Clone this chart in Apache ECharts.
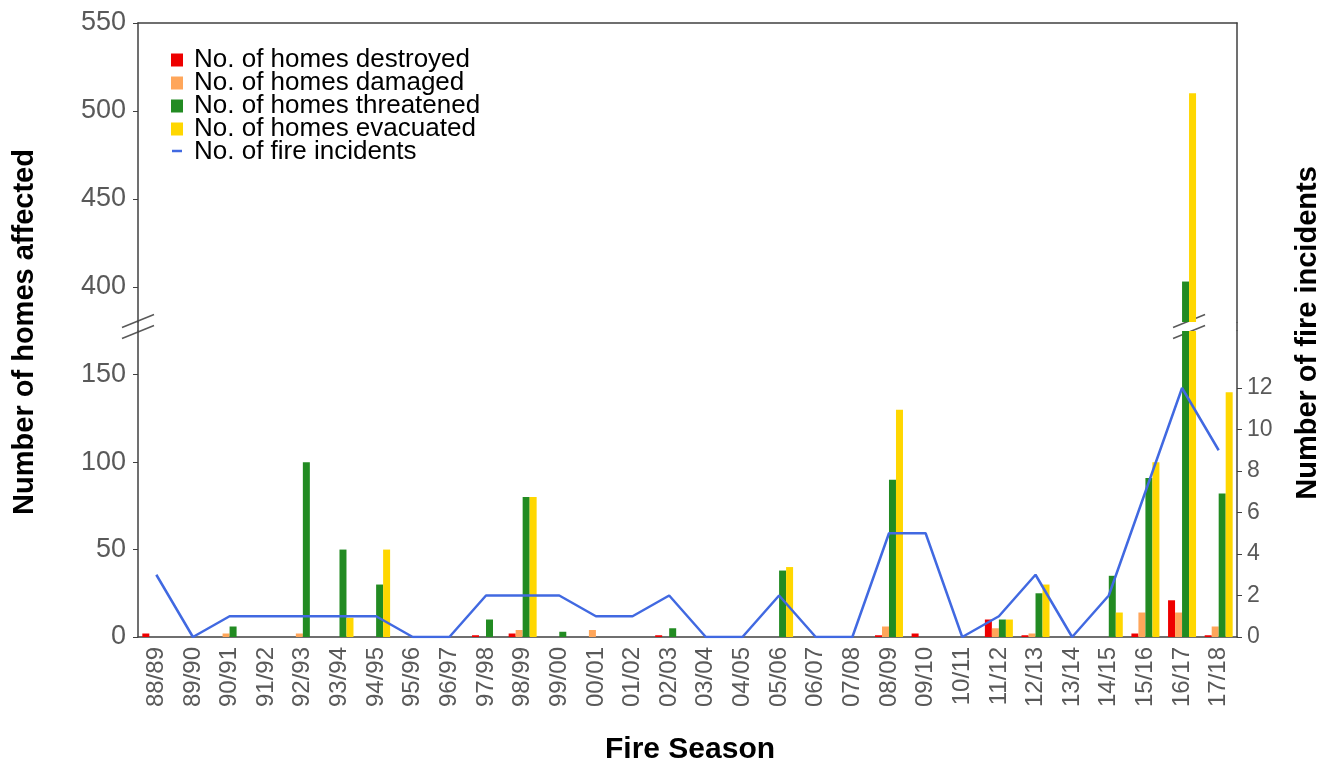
<!DOCTYPE html>
<html style="height: 100%">
<head>
    <meta charset="utf-8">
    <script src="https://cdn.jsdelivr.net/npm/echarts@6/dist/echarts.min.js"></script>
</head>
<body style="height: 100%; margin: 0; background: #fff">
    <div id="container" style="width: 1322px; height: 763px;"></div>
    <script>
        // data
        var seasons = ['88/89', '89/90', '90/91', '91/92', '92/93', '93/94', '94/95', '95/96', '96/97', '97/98',
            '98/99', '99/00', '00/01', '01/02', '02/03', '03/04', '04/05', '05/06', '06/07', '07/08',
            '08/09', '09/10', '10/11', '11/12', '12/13', '13/14', '14/15', '15/16', '16/17', '17/18'];
        var destroyed = [2, 0, 0, 0, 0, 0, 0, 0, 0, 1, 2, 0, 0, 0, 1, 0, 0, 0, 0, 0, 1, 2, 0, 10, 1, 0, 0, 2, 21, 1];
        var damaged = [0, 0, 2, 0, 2, 0, 0, 0, 0, 0, 4, 0, 4, 0, 0, 0, 0, 0, 0, 0, 6, 0, 0, 5, 2, 0, 0, 14, 14, 6];
        var threatened = [0, 0, 6, 0, 100, 50, 30, 0, 0, 10, 80, 3, 0, 0, 5, 0, 0, 38, 0, 0, 90, 0, 0, 10, 25, 0, 35, 91, 403, 82];
        var evacuated = [0, 0, 0, 0, 0, 11, 50, 0, 0, 0, 80, 0, 0, 0, 0, 0, 0, 40, 0, 0, 130, 0, 0, 10, 30, 0, 14, 100, 510, 140];
        var fires = [3, 0, 1, 1, 1, 1, 1, 0, 0, 2, 2, 2, 1, 1, 2, 0, 0, 2, 0, 0, 5, 5, 0, 1, 3, 0, 2, 7, 12, 9];

        var lowTicks = [0, 50, 100, 150];
        var highTicks = [400, 450, 500, 550];
        var fireTicks = [0, 2, 4, 6, 8, 10, 12];

        var names = ['No. of homes destroyed', 'No. of homes damaged', 'No. of homes threatened', 'No. of homes evacuated'];
        var colors = ['#ee0000', '#ffa65a', '#228b22', '#ffd700'];
        var barData = [destroyed, damaged, threatened, evacuated];

        var FONT = 'Liberation Sans, Arial, sans-serif';
        var AXIS = '#404040';
        var LABEL = '#595959';
        var BLUE = '#4169e1';

        // layout: two grids make the broken y axis
        var gl = 138, gw = 1099;
        var lowTop = 331, lowH = 306;   // 0..175
        var upTop = 23, upH = 299;      // 380..550
        var lowMax = 175, upMin = 380, upMax = 550;
        var fireMax = lowH / 20.75;

        var series = [];
        for (var i = 0; i < 4; i++) {
            series.push({
                name: names[i], type: 'bar', xAxisIndex: 0, yAxisIndex: 0,
                barWidth: 7, barGap: '0%', itemStyle: { color: colors[i] },
                data: barData[i]
            });
        }
        series.push({
            name: 'No. of fire incidents', type: 'line', xAxisIndex: 0, yAxisIndex: 1,
            symbol: 'none', lineStyle: { color: BLUE, width: 2.5 }, itemStyle: { color: BLUE },
            data: fires, z: 5
        });
        for (var j = 0; j < 4; j++) {
            series.push({
                name: names[j], type: 'bar', xAxisIndex: 1, yAxisIndex: 2,
                barWidth: 7, barGap: '0%', itemStyle: { color: colors[j] },
                data: barData[j]
            });
        }

        var dom = document.getElementById('container');
        var myChart = echarts.init(dom, null, { renderer: 'canvas' });

        var option = {
            animation: false,
            textStyle: { fontFamily: FONT },
            legend: {
                orient: 'vertical', left: 171, top: 47, padding: 0,
                itemWidth: 12, itemHeight: 13, itemGap: -3,
                selectedMode: false,
                textStyle: { fontSize: 26, color: '#000', fontFamily: FONT, padding: [0, 0, 0, 6] },
                data: [
                    { name: names[0], icon: 'rect' },
                    { name: names[1], icon: 'rect' },
                    { name: names[2], icon: 'rect' },
                    { name: names[3], icon: 'rect' },
                    { name: 'No. of fire incidents', icon: 'none' }
                ]
            },
            grid: [
                { left: gl, width: gw, top: lowTop, height: lowH, containLabel: false },
                { left: gl, width: gw, top: upTop, height: upH, containLabel: false }
            ],
            xAxis: [
                {
                    type: 'category', gridIndex: 0, data: seasons,
                    axisLine: { lineStyle: { color: AXIS, width: 1.5 } },
                    axisTick: { alignWithLabel: true, length: 6, lineStyle: { color: AXIS } },
                    axisLabel: { rotate: 90, interval: 0, fontSize: 24, color: LABEL, margin: 10, fontFamily: FONT }
                },
                {
                    type: 'category', gridIndex: 1, data: seasons, position: 'top',
                    axisLine: { lineStyle: { color: AXIS, width: 1.5 } },
                    axisTick: { show: false }, axisLabel: { show: false }
                }
            ],
            yAxis: [
                {
                    type: 'value', gridIndex: 0, min: 0, max: lowMax,
                    axisLine: { show: true, lineStyle: { color: AXIS, width: 1.5 } },
                    axisTick: { show: true, length: 5, customValues: lowTicks, lineStyle: { color: AXIS } },
                    axisLabel: { fontSize: 27, color: LABEL, margin: 12, customValues: lowTicks, fontFamily: FONT },
                    splitLine: { show: false }
                },
                {
                    type: 'value', gridIndex: 0, position: 'right', min: 0, max: fireMax,
                    axisLine: { show: true, lineStyle: { color: AXIS, width: 1.5 } },
                    axisTick: { show: true, length: 5, customValues: fireTicks, lineStyle: { color: AXIS } },
                    axisLabel: { fontSize: 23, color: LABEL, margin: 10, customValues: fireTicks, fontFamily: FONT },
                    splitLine: { show: false }
                },
                {
                    type: 'value', gridIndex: 1, min: upMin, max: upMax,
                    axisLine: { show: true, lineStyle: { color: AXIS, width: 1.5 } },
                    axisTick: { show: true, length: 5, customValues: highTicks, lineStyle: { color: AXIS } },
                    axisLabel: { fontSize: 27, color: LABEL, margin: 12, customValues: highTicks, fontFamily: FONT },
                    splitLine: { show: false }
                },
                {
                    type: 'value', gridIndex: 1, position: 'right', min: upMin, max: upMax,
                    axisLine: { show: true, lineStyle: { color: AXIS, width: 1.5 } },
                    axisTick: { show: false }, axisLabel: { show: false }, splitLine: { show: false }
                }
            ],
            series: series
        };
        myChart.setOption(option);

        // break marks and axis titles
        var gapTop = myChart.convertToPixel({ yAxisIndex: 2 }, upMin);
        var gapBot = myChart.convertToPixel({ yAxisIndex: 0 }, lowMax);
        var cy = (gapTop + gapBot) / 2;
        var bx = myChart.convertToPixel({ xAxisIndex: 0 }, '16/17') + 7;
        var xl = gl, xr = gl + gw;

        function breakMark(cx, fill) {
            var kids = [];
            if (fill) {
                kids.push({
                    type: 'polygon',
                    shape: { points: [[cx - 17, cy + 0.5], [cx + 17, cy - 13.5], [cx + 17, cy - 0.5], [cx - 17, cy + 13.5]] },
                    style: { fill: '#fff' }
                });
            }
            kids.push({ type: 'line', shape: { x1: cx - 16, y1: cy + 1, x2: cx + 16, y2: cy - 12 }, style: { stroke: LABEL, lineWidth: 1.5 } });
            kids.push({ type: 'line', shape: { x1: cx - 16, y1: cy + 12, x2: cx + 16, y2: cy - 1 }, style: { stroke: LABEL, lineWidth: 1.5 } });
            return { type: 'group', z: 100, children: kids };
        }

        myChart.setOption({
            graphic: [
                { type: 'line', z: 50, shape: { x1: xl, y1: gapTop, x2: xl, y2: gapBot }, style: { stroke: AXIS, lineWidth: 1.5 } },
                { type: 'line', z: 50, shape: { x1: xr, y1: gapTop, x2: xr, y2: gapBot }, style: { stroke: AXIS, lineWidth: 1.5 } },
                breakMark(xl, false),
                breakMark(bx, true),
                // short dash as legend key for the fire line
                { type: 'line', z: 100, shape: { x1: 172, y1: 151, x2: 182, y2: 151 }, style: { stroke: BLUE, lineWidth: 2.5 } },
                {
                    type: 'text', x: 25, y: 332, rotation: Math.PI / 2,
                    style: { text: 'Number of homes affected', font: 'bold 29px ' + FONT, fill: '#000', textAlign: 'center', textVerticalAlign: 'middle' }
                },
                {
                    type: 'text', x: 1308, y: 333, rotation: Math.PI / 2,
                    style: { text: 'Number of fire incidents', font: 'bold 29px ' + FONT, fill: '#000', textAlign: 'center', textVerticalAlign: 'middle' }
                },
                {
                    type: 'text', x: 690, y: 750,
                    style: { text: 'Fire Season', font: 'bold 30px ' + FONT, fill: '#000', textAlign: 'center', textVerticalAlign: 'middle' }
                }
            ]
        });

        window.addEventListener('resize', myChart.resize);
    </script>
</body>
</html>
